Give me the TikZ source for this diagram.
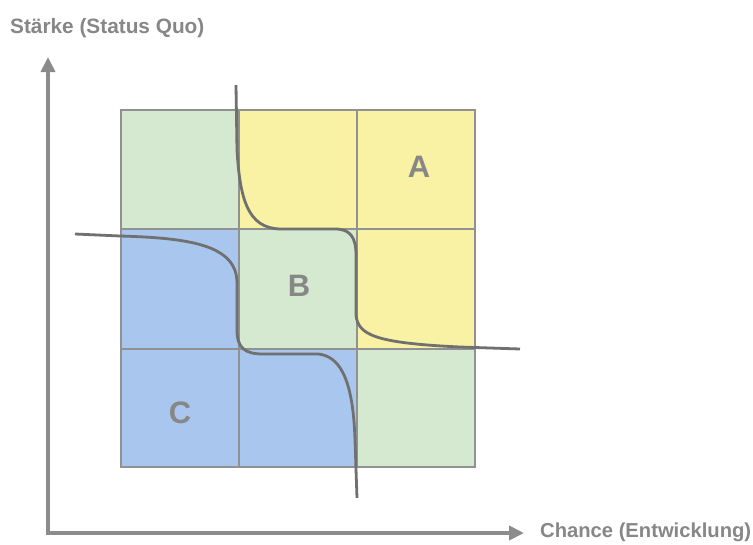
\documentclass[tikz,border=0pt]{standalone}
\usepackage{fontspec}
\setmainfont{Liberation Sans}
\usetikzlibrary{arrows.meta}
\definecolor{cgreen}{RGB}{213,232,208}
\definecolor{cyellow}{RGB}{249,241,163}
\definecolor{cblue}{RGB}{168,198,238}
\definecolor{gridgray}{RGB}{145,145,145}
\definecolor{curvegray}{RGB}{112,112,112}
\definecolor{axisgray}{RGB}{140,140,140}
\definecolor{textgray}{RGB}{135,135,135}
\tikzset{
  cell/.style={draw=gridgray, line width=1.4pt},
  curve/.style={draw=curvegray, line width=2.8pt, line join=round},
  axis/.style={draw=axisgray, line width=4pt, line join=miter},
  axislabel/.style={text=textgray, inner sep=0pt, anchor=base west},
  letter/.style={text=textgray, font=\fontsize{31}{36}\selectfont\bfseries, inner sep=0pt}
}
\begin{document}
\begin{tikzpicture}[x=1pt,y=-1pt]
\useasboundingbox[fill=white] (0,0) rectangle (753,544);
% cells
\fill[cgreen]  (121,110) rectangle (239,229);
\fill[cyellow] (239,110) rectangle (357,229);
\fill[cyellow] (357,110) rectangle (475,229);
\fill[cblue]   (121,229) rectangle (239,349);
\fill[cgreen]  (239,229) rectangle (357,349);
\fill[cyellow] (357,229) rectangle (475,349);
\fill[cblue]   (121,349) rectangle (239,467);
\fill[cblue]   (239,349) rectangle (357,467);
\fill[cgreen]  (357,349) rectangle (475,467);
\draw[cell] (121,110) rectangle (475,467);
\draw[cell] (239,110) -- (239,467) (357,110) -- (357,467)
            (121,229) -- (475,229) (121,349) -- (475,349);
% curves
\draw[curve] (236,85) -- (237,150) .. controls (240,200) and (248,228) .. (280,229)
  -- (335,229) .. controls (350,229) and (356,237) .. (356,255)
  -- (356,315) .. controls (358,335) and (375,343) .. (460,347) -- (520,349);
\draw[curve] (75,234) -- (120,236) .. controls (190,238) and (236,245) .. (237,282)
  -- (237,330) .. controls (237,348) and (245,354) .. (263,354)
  -- (318,354) .. controls (338,356) and (353,375) .. (355,440) -- (357,498);
% axes
\coordinate (top) at (48,57);
\coordinate (origin) at (48,533);
\coordinate (right) at (524,533);
\draw[axis, {Triangle[length=15pt,width=14pt]}-{Triangle[length=15pt,width=14pt]}] (top) -- (origin) -- (right);
% labels
\node[axislabel, font=\fontsize{20.8}{24}\selectfont\bfseries] (ylab) at (10,33) {Stärke (Status Quo)};
\node[axislabel, font=\fontsize{20.2}{24}\selectfont\bfseries] (xlab) at (540,537) {Chance (Entwicklung)};
\node[letter] (A) at (419,167) {A};
\node[letter] (B) at (299,286) {B};
\node[letter] (C) at (180,413) {C};
\end{tikzpicture}
\end{document}
